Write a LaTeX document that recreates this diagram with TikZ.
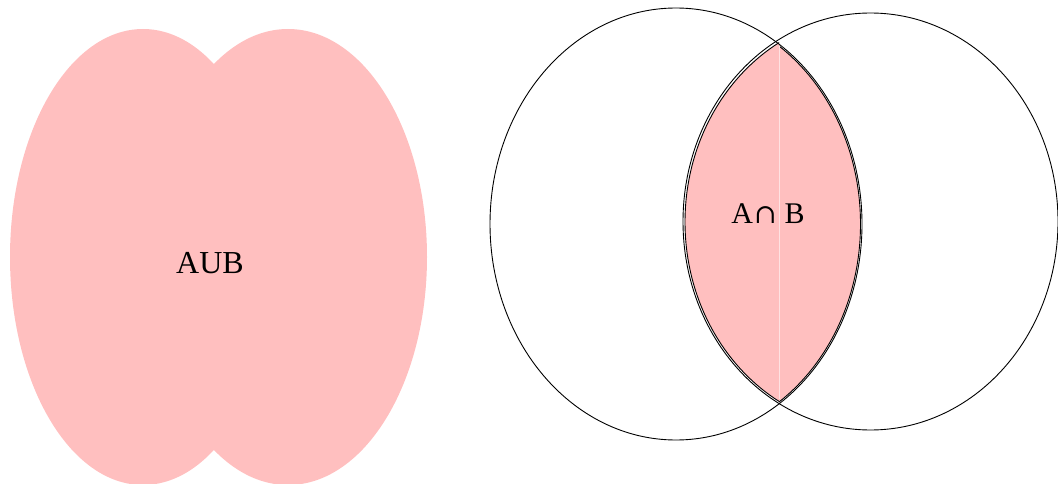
\documentclass[tikz,border=0pt]{standalone}
\usepackage{fontspec}
\setmainfont{Liberation Serif}
\newfontfamily\capfont{DejaVu Serif}
\definecolor{pinkfill}{RGB}{255,191,191}
\begin{document}
\begin{tikzpicture}[x=1pt,y=-1pt,
  setline/.style={draw=black,line width=0.9pt},
  lensfill/.style={fill=pinkfill,draw=black,line width=0.9pt},
  label/.style={inner sep=0pt,font=\fontsize{32}{36}\selectfont}]
\useasboundingbox (0,0) rectangle (1058,484);
% union
\fill[pinkfill] (143,257) ellipse [x radius=133, y radius=228];
\fill[pinkfill] (288,257) ellipse [x radius=139, y radius=228];
\node[label] (aub) at (210,263) {AUB};
% intersection lens, two halves
\begin{scope}
  \clip (600,0) rectangle (779,484);
  \path[lensfill] (871.5,222) ellipse [x radius=186.5, y radius=206.5];
\end{scope}
\begin{scope}
  \clip (779,0) rectangle (950,484);
  \path[lensfill] (676,224) ellipse [x radius=184.5, y radius=214.5];
\end{scope}
\draw[draw=white!55!pinkfill,line width=0.5pt] (779,46) -- (779,399);
% the two sets
\path[setline] (676,224) ellipse [x radius=186, y radius=216];
\path[setline] (870.5,221.5) ellipse [x radius=187.5, y radius=208.5];
\node[label,font=\fontsize{30}{34}\selectfont] (aib) at (768,214) {A\kern1pt{\capfont\fontsize{27}{30}\selectfont ∩}\kern8pt B};
\end{tikzpicture}
\end{document}
